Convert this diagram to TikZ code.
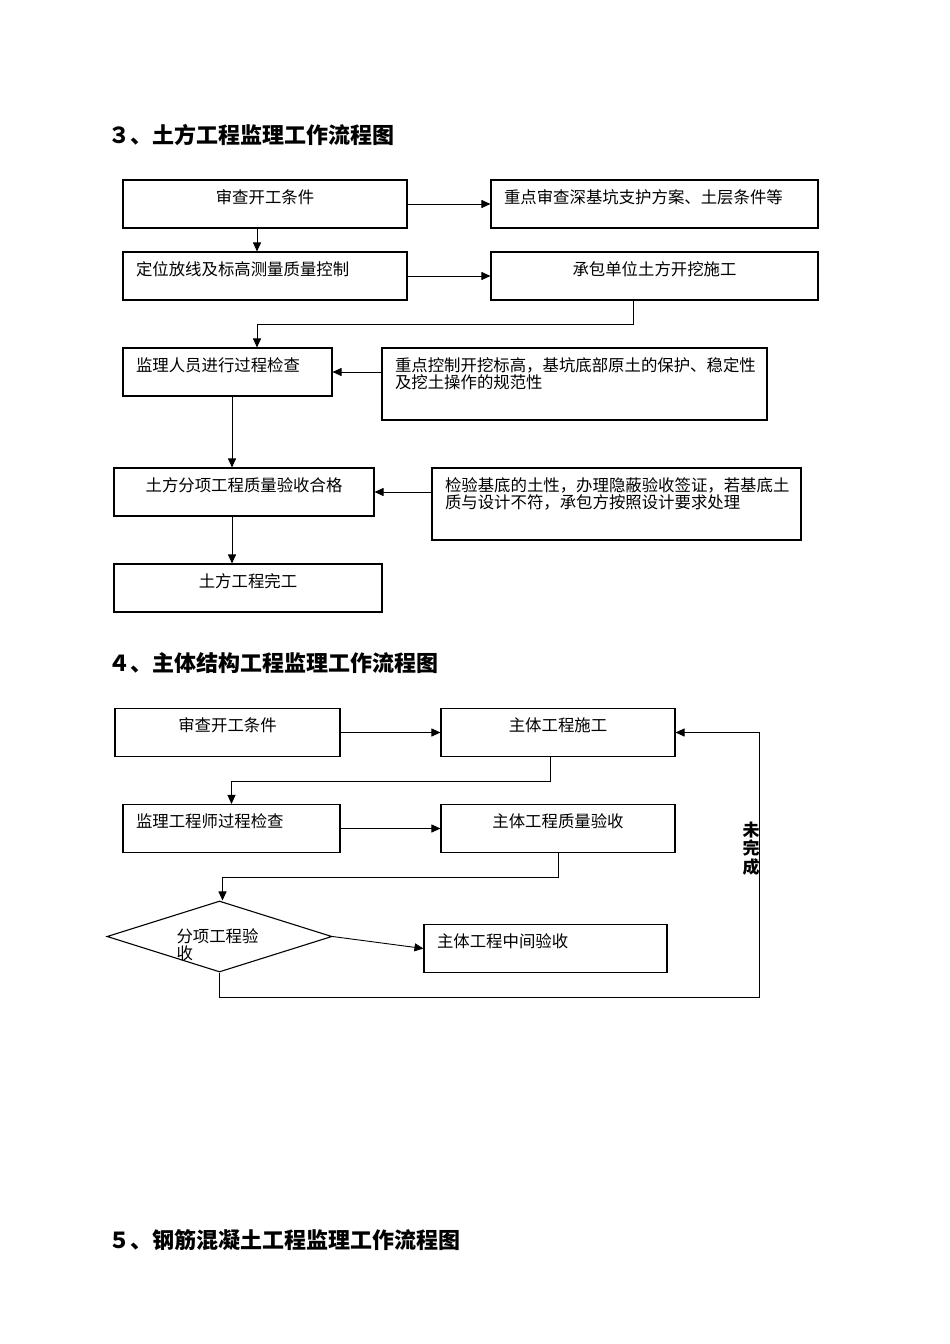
\documentclass[tikz,border=0pt]{standalone}
\usepackage{fontspec}
\newfontfamily\cjk{Noto Sans CJK SC}
\usetikzlibrary{arrows.meta, shapes.geometric}
\tikzset{
    box/.style={draw, line width=1.1pt, inner xsep=13pt, inner ysep=9pt, text height=14pt, text depth=16pt, font=\cjk\fontsize{16.4}{17.5}\selectfont},
    tallbox/.style={box, text depth=40pt},
    arr/.style={line width=0.9pt, -{Triangle[length=9pt,width=8pt]}},
    title/.style={anchor=base west, inner sep=0pt, font=\cjk\bfseries\fontsize{22}{24}\selectfont},
}

\begin{document}
\begin{tikzpicture}[x=1pt,y=-1pt]
    \useasboundingbox (0,0) rectangle (950,1344);
    \foreach \n/\y/\t in {3/143/３、土方工程监理工作流程图,4/671/４、主体结构工程监理工作流程图,5/1248/５、钢筋混凝土工程监理工作流程图}{
        \node[title] (t\n) at (108,\y) {\t};
    }
    % 3
    \node[box, text width=258pt, align=center] (kg3) at (265,204) {审查开工条件};
    \node[box, text width=301pt, align=left] (zd3) at (654.5,204) {重点审查深基坑支护方案、土层条件等};
    \node[box, text width=258pt, align=left] (dw3) at (265,276) {定位放线及标高测量质量控制};
    \node[box, text width=301pt, align=center] (cb3) at (654.5,276) {承包单位土方开挖施工};
    \node[box, text width=183pt, align=left] (jl3) at (227.5,372) {监理人员进行过程检查};
    \node[tallbox, text width=359pt, align=left] (kz3) at (574.5,384) {重点控制开挖标高，基坑底部原土的保护、稳定性\\及挖土操作的规范性};
    \node[box, text width=234pt, align=center] (fx3) at (244,492) {土方分项工程质量验收合格};
    \node[tallbox, text width=343pt, align=left] (jy3) at (616.5,504) {检验基底的土性，办理隐蔽验收签证，若基底土\\质与设计不符，承包方按照设计要求处理};
    \node[box, text width=242pt, align=center] (wg3) at (248,588) {土方工程完工};
    \draw[arr] (kg3) -- (zd3);
    \draw[arr] ([xshift=-8pt]kg3.south) -- ([xshift=-8pt]dw3.north);
    \draw[arr] (dw3) -- (cb3);
    \draw[arr] ([xshift=-21.5pt]cb3.south) -- ++(0,24) -| ([xshift=29.5pt]jl3.north);
    \draw[arr] (kz3.west |- jl3) -- (jl3);
    \draw[arr] ([xshift=4.5pt]jl3.south) -- ([xshift=4.5pt]jl3.south |- fx3.north);
    \draw[arr] (jy3.west |- fx3) -- (fx3);
    \draw[arr] ([xshift=-12pt]fx3.south) -- ([xshift=-12pt]fx3.south |- wg3.north);
    % 4
    \node[box, text width=199pt, align=center] (kg4) at (227.5,732.5) {审查开工条件};
    \node[box, text width=208pt, align=center] (sg4) at (558,732.5) {主体工程施工};
    \node[box, text width=191pt, align=left] (jl4) at (231.5,828.5) {监理工程师过程检查};
    \node[box, text width=208pt, align=center] (zl4) at (558,828.5) {主体工程质量验收};
    \node[box, diamond, aspect=3.2, inner sep=0pt, text width=86pt, text height=14pt, text depth=3pt, align=left, minimum width=225pt, minimum height=71pt] (dm4) at (219.5,936.5) {分项工程验\\收};
    \node[box, text width=217pt, align=left] (zj4) at (545.5,948.5) {主体工程中间验收};
    \node[inner sep=0pt, align=center, font=\cjk\bfseries\fontsize{17}{18.5}\selectfont] (wwc4) at (751,848.5) {未\\完\\成};
    \coordinate (lp4) at (759,997);
    \draw[arr] (kg4) -- (sg4);
    \draw[arr] ([xshift=-8pt]sg4.south) -- ++(0,24) -| (jl4.north);
    \draw[arr] (jl4) -- (zl4);
    \draw[arr] (zl4.south) -- ++(0,24.5) -| ([xshift=3pt]dm4.north);
    \draw[arr] (dm4.east) -- (zj4.west);
    \draw[arr] (dm4.south) |- (lp4) |- (sg4.east);
\end{tikzpicture}
\end{document}
